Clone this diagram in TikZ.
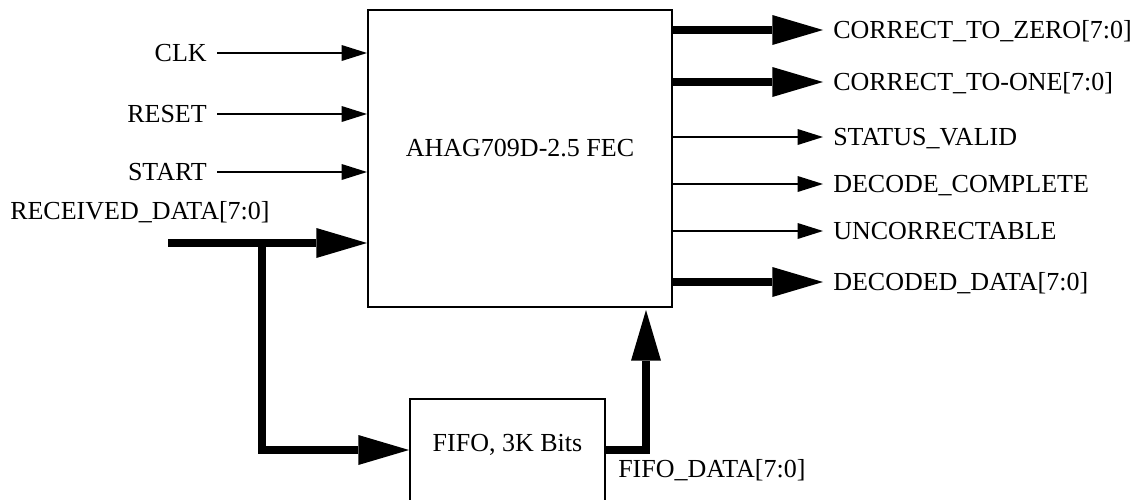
\documentclass[tikz,border=0pt]{standalone}
\usepackage{fontspec}
\setmainfont{Liberation Serif}
\usepackage{tikz}
\usetikzlibrary{arrows.meta, calc}

\tikzset{
  blk/.style={draw, line width=1.5pt, inner sep=0pt},
  sig/.style={inner xsep=7.5pt, inner ysep=0pt, text height=12.9pt, text depth=0pt},
  wire/.style={line width=1.5pt, -{Triangle[length=19pt, width=12pt, line width=0pt]}},
  bus/.style={line width=6pt, -{Triangle[length=38pt, width=22.5pt, line width=0pt]}},
}

\begin{document}
\begin{tikzpicture}[x=0.75pt, y=-0.75pt, font=\fontsize{19.5}{23}\selectfont]
  \clip (0,0) rectangle (1143,500);

  \node[blk, minimum width=228pt, minimum height=222.75pt,
        label={[name=fectxt, yshift=7.75pt]center:AHAG709D-2.5 FEC}]
        (fec) at (520,158.5) {};
  \node[blk, minimum width=146.25pt, minimum height=76.5pt,
        label={[name=fifotxt, yshift=3.75pt]center:{FIFO, 3K Bits}}]
        (fifo) at (507.5,450) {};

  % inputs
  \node[sig, anchor=east] (clk) at (217,53) {CLK};
  \node[sig, anchor=east] (rst) at (217,114) {RESET};
  \node[sig, anchor=east] (start) at (217,172) {START};
  \node[sig, anchor=west] (rxd) at (0,211) {RECEIVED\_DATA[7:0]};
  \coordinate (rxin) at (168,243);
  \coordinate (tap) at (262,243);

  \draw[wire] (clk.east) -- (clk -| fec.west);
  \draw[wire] (rst.east) -- (rst -| fec.west);
  \draw[wire] (start.east) -- (start -| fec.west);
  \draw[bus] (rxin) -- (rxin -| fec.west);
  \draw[bus] (tap) |- (fifo.west);

  % fifo back into the decoder
  \coordinate (fifoin) at (646,310);
  \draw[bus] (fifo.east) -| (fifoin);
  \node[sig, anchor=west] (fifod) at (608,468.5) {FIFO\_DATA[7:0]};

  % outputs
  \node[sig, anchor=west] (czero) at (823,30) {CORRECT\_TO\_ZERO[7:0]};
  \node[sig, anchor=west] (cone) at (823,82) {CORRECT\_TO-ONE[7:0]};
  \node[sig, anchor=west] (stval) at (823,137) {STATUS\_VALID};
  \node[sig, anchor=west] (dcomp) at (823,184) {DECODE\_COMPLETE};
  \node[sig, anchor=west] (uncor) at (823,231) {UNCORRECTABLE};
  \node[sig, anchor=west] (ddata) at (823,282) {DECODED\_DATA[7:0]};

  \draw[bus] (czero -| fec.east) -- (czero.west);
  \draw[bus] (cone -| fec.east) -- (cone.west);
  \draw[wire] (stval -| fec.east) -- (stval.west);
  \draw[wire] (dcomp -| fec.east) -- (dcomp.west);
  \draw[wire] (uncor -| fec.east) -- (uncor.west);
  \draw[bus] (ddata -| fec.east) -- (ddata.west);
\end{tikzpicture}
\end{document}
